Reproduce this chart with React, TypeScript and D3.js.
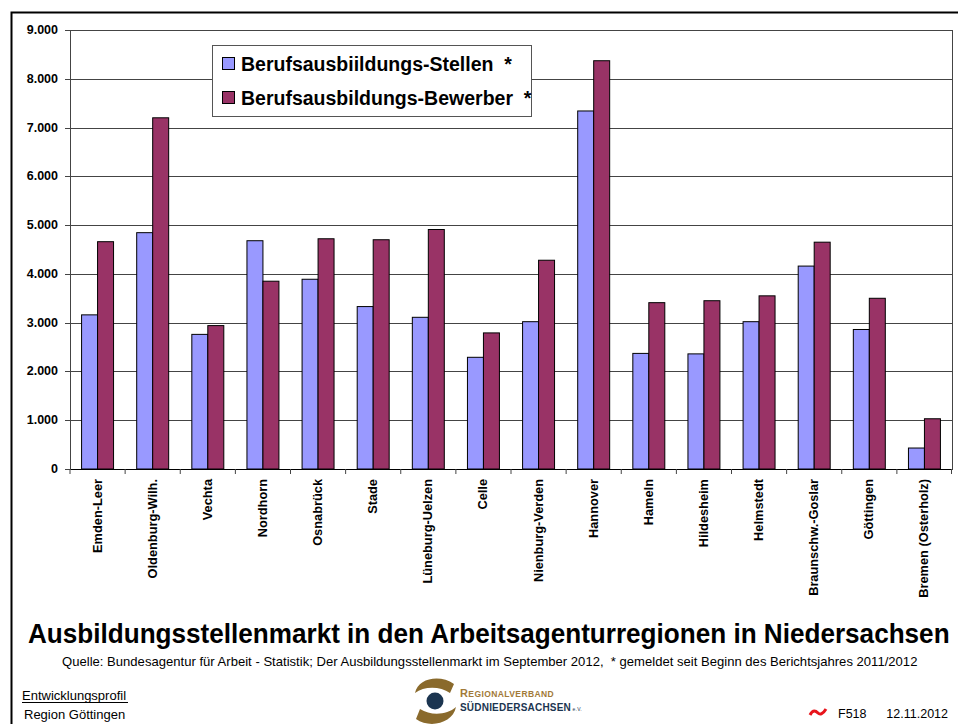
import React, { useLayoutEffect, useRef } from 'react';
import * as d3 from 'd3';

const regions = [
  'Emden-Leer', 'Oldenburg-Wilh.', 'Vechta', 'Nordhorn', 'Osnabrück', 'Stade',
  'Lüneburg-Uelzen', 'Celle', 'Nienburg-Verden', 'Hannover', 'Hameln', 'Hildesheim',
  'Helmstedt', 'Braunschw.-Goslar', 'Göttingen', 'Bremen (Osterholz)',
];
const stellen = [3160, 4845, 2760, 4680, 3890, 3330, 3110, 2290, 3020, 7340, 2370, 2360, 3020, 4160, 2860, 430];
const bewerber = [4660, 7200, 2940, 3850, 4720, 4700, 4910, 2790, 4280, 8370, 3410, 3450, 3550, 4650, 3500, 1030];
const seriesNames = ['Berufsausbiildungs-Stellen', 'Berufsausbildungs-Bewerber'];
const seriesColors = ['#9999ff', '#993366'];
const yTicks = [0, 1000, 2000, 3000, 4000, 5000, 6000, 7000, 8000, 9000];

const W = 958;
const H = 724;
const left = 70, right = 952, top = 30, bottom = 469;
const font = 'Liberation Sans, Arial, sans-serif';

const fmt = (v: number) => (v === 0 ? '0' : d3.format(',')(v).replace(/,/g, '.'));

export default function App() {
  const titleRef = useRef<SVGTextElement>(null);
  const subRef = useRef<SVGTextElement>(null);

  // squeeze the title lines horizontally to the width they have in the original
  useLayoutEffect(() => {
    const fit = (el: SVGTextElement | null, x: number, yy: number, w: number) => {
      if (!el) return;
      const len = el.getComputedTextLength();
      d3.select(el).attr('transform', `translate(${x},${yy}) scale(${w / len},1)`);
    };
    fit(titleRef.current, 28, 643, 922);
    fit(subRef.current, 62, 666, 856);
  }, []);

  const x0 = d3.scaleBand<string>().domain(regions).range([left, right]).paddingInner(0.42).paddingOuter(0.21);
  const x1 = d3.scaleBand<number>().domain([0, 1]).range([0, x0.bandwidth()]);
  const y = d3.scaleLinear().domain([0, 9000]).range([bottom, top]);
  const step = x0.step();
  const series = [stellen, bewerber];

  return (
    <svg width={W} height={H} style={{ position: 'absolute', left: 0, top: 0 }} fontFamily={font}>
      <rect x={0} y={0} width={W} height={H} fill="#fff" />
      {/* outer frame */}
      <path d={`M11.5,${H} V12.5 H${W}`} fill="none" stroke="#000" strokeWidth={2} />

      {/* gridlines */}
      {yTicks.map((t) => (
        <line key={t} x1={left} x2={right} y1={Math.round(y(t)) + 0.5} y2={Math.round(y(t)) + 0.5}
          stroke={t === 0 ? '#000' : '#444'} strokeWidth={1} />
      ))}
      <line x1={left + 0.5} x2={left + 0.5} y1={top} y2={bottom + 1} stroke="#444" />
      <line x1={right + 0.5} x2={right + 0.5} y1={top} y2={bottom + 1} stroke="#444" />
      {yTicks.map((t) => (
        <g key={'yt' + t}>
          <line x1={left - 5} x2={left} y1={Math.round(y(t)) + 0.5} y2={Math.round(y(t)) + 0.5} stroke="#444" />
          <text x={left - 12} y={y(t) + 4} textAnchor="end" fontSize={12.5} fontWeight="bold">{fmt(t)}</text>
        </g>
      ))}

      {/* bars */}
      {regions.map((r, i) => (
        <g key={r}>
          {series.map((s, k) => (
            <rect key={k} x={(x0(r) || 0) + (x1(k) || 0)} y={y(s[i])} width={x1.bandwidth()}
              height={bottom - y(s[i])} fill={seriesColors[k]} stroke="#000" strokeWidth={1} />
          ))}
        </g>
      ))}

      {/* category ticks and labels */}
      {regions.map((r, i) => (
        <line key={'xt' + i} x1={(x0(r) || 0) - step * 0.21} x2={(x0(r) || 0) - step * 0.21}
          y1={bottom} y2={bottom + 5} stroke="#444" />
      ))}
      <line x1={right - 0.5} x2={right - 0.5} y1={bottom} y2={bottom + 5} stroke="#444" />
      {regions.map((r) => {
        const cx = (x0(r) || 0) + x0.bandwidth() / 2 + 4;
        return (
          <text key={'xl' + r} transform={`translate(${cx},${bottom + 10}) rotate(-90)`} textAnchor="end"
            fontSize={12.8} fontWeight="bold">{r}</text>
        );
      })}

      {/* legend */}
      <rect x={212.5} y={45.5} width={319} height={71} fill="#fff" stroke="#555" strokeWidth={1} />
      {seriesNames.map((n, k) => (
        <g key={n}>
          <rect x={222.5} y={57.5 + k * 34} width={12} height={12} fill={seriesColors[k]} stroke="#000" />
          <text x={241} y={71 + k * 34} fontSize={19.5} fontWeight="bold" style={{ whiteSpace: 'pre' }}>{n + '  *'}</text>
        </g>
      ))}

      {/* title */}
      <text ref={titleRef} transform="translate(28,643)" fontSize={28} fontWeight="bold">
        Ausbildungsstellenmarkt in den Arbeitsagenturregionen in Niedersachsen
      </text>
      <text ref={subRef} transform="translate(62,666)" fontSize={12} style={{ whiteSpace: 'pre' }}>
        {'Quelle: Bundesagentur für Arbeit - Statistik; Der Ausbildungsstellenmarkt im September 2012,  * gemeldet seit Beginn des Berichtsjahres 2011/2012'}
      </text>

      {/* footer left */}
      <text x={22} y={700} fontSize={13}>Entwicklungsprofil</text>
      <line x1={22} x2={128} y1={702.5} y2={702.5} stroke="#000" strokeWidth={1} />
      <text x={24} y={719} fontSize={13}>Region Göttingen</text>

      {/* logo */}
      <g>
        <path d="M454,684 C440,674 418,678 415,693 C424,686 440,686 450,693 Z" fill="#8a6a2c" />
        <path d="M416,719 C430,729 453,723 456,707 C447,715 431,716 420,709 Z" fill="#8a6a2c" />
        <circle cx={435} cy={701} r={8.5} fill="#1c3550" />
        <text x={460} y={697} fontSize={11} fontWeight="bold" fill="#a27a38" letterSpacing={0.4}>
          R<tspan fontSize={8.5}>EGIONALVERBAND</tspan>
        </text>
        <text x={460} y={711} fontSize={10} fontWeight="bold" fill="#1c3550" letterSpacing={0.2}>
          SÜDNIEDERSACHSEN<tspan fontSize={5} fontWeight="normal"> e.V.</tspan>
        </text>
      </g>

      {/* footer right */}
      <path d="M810,715 C813,709 816,711 818,713 C820,715 823,714 826,709" fill="none" stroke="#e8141c" strokeWidth={3} />
      <text x={838} y={718} fontSize={12.5}>F518</text>
      <text x={948} y={718} fontSize={12.5} textAnchor="end">12.11.2012</text>
    </svg>
  );
}
